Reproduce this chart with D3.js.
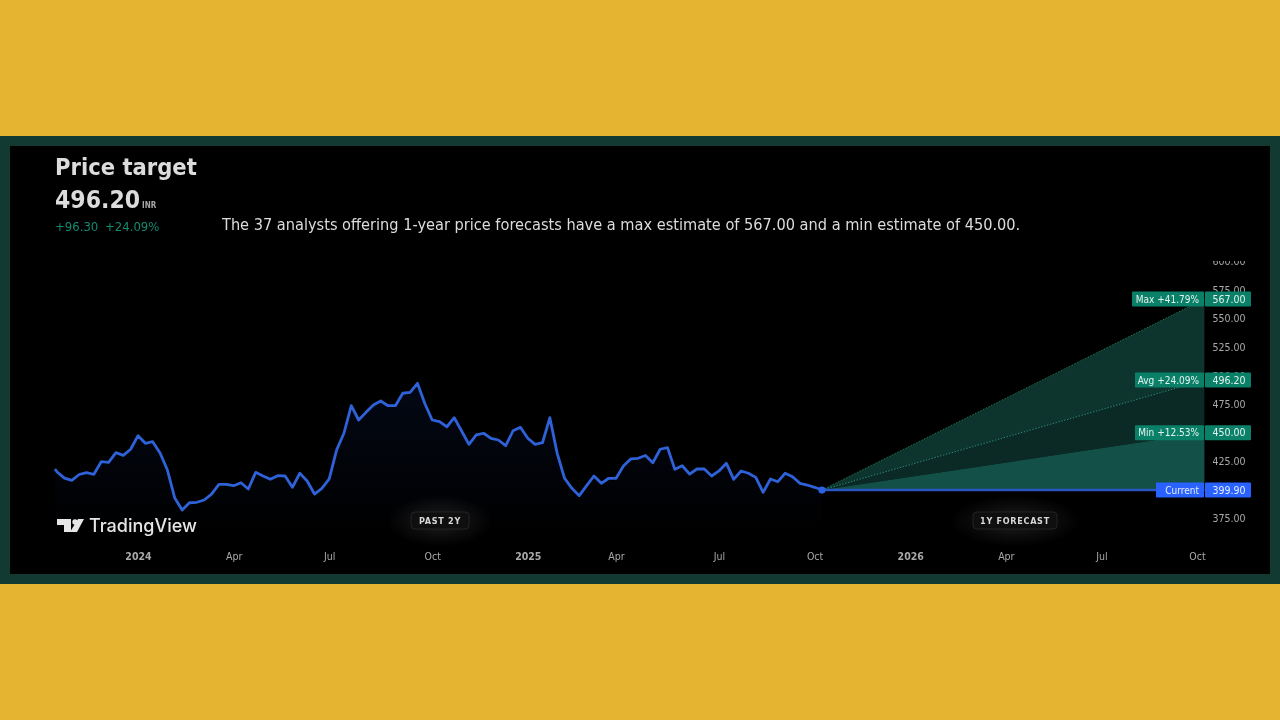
<!DOCTYPE html>
<html>
<head>
<meta charset="utf-8">
<script src="https://cdn.jsdelivr.net/npm/d3@7"></script>
<style>
html,body{margin:0;padding:0;background:#e5b532;overflow:hidden}
svg{display:block;filter:blur(0.35px)}
text{font-family:"DejaVu Sans",sans-serif;font-stretch:condensed}
</style>
</head>
<body>
<svg id="c" width="1280" height="720"></svg>
<script>
const weekIndex = [-0.3].concat(d3.range(0, 105));
const prices = [418.3,415.7,410.4,408.4,413.5,415.1,413.7,424.7,424.2,432.6,430.3,435.6,447.5,440.8,442.2,432.3,417.4,392.9,382.4,388.8,389.2,391.2,396.4,404.9,404.9,403.7,406.3,400.8,415.4,412.2,409.3,412.5,412.2,402.3,414.6,407.8,396.4,401.4,409.6,434.9,449.6,473.7,461.2,467.9,474.3,477.8,473.7,473.7,484.6,485.4,493.3,475.6,461.2,459.7,455.3,463.2,451.6,439.9,448.1,449.6,445.2,443.7,438.7,451.8,454.8,445.2,439.9,441.3,463.2,432,410.2,401.4,395,403.7,412.2,405.8,410.2,410.2,420.9,427.1,427.7,430.1,423.8,435.6,437,418,421.2,413.9,418.3,418.3,412.2,416.6,423.3,409.3,416.6,414.6,411,397.9,409.6,407.2,414.6,411.6,405.8,404.3,402.3,399.9];
const tickWeeks = [11,24,37,51,64,76,90,103,116,129,142,155];
const tickLabels = ["2024","Apr","Jul","Oct","2025","Apr","Jul","Oct","2026","Apr","Jul","Oct"];
const priceTicks = [375,400,425,450,475,500,525,550,575,600];
const forecastWeeks = [104,156];
const current = 399.9;
const targetMax = 567, targetAvg = 496.2, targetMin = 450;
const targetLabels = ["Max +41.79%","Avg +24.09%","Min +12.53%"];
const targetValues = [targetMax,targetAvg,targetMin];
const targetPrices = ["567.00","496.20","450.00"];

const svg = d3.select("#c");
const defs = svg.append("defs");
const x = d3.scaleLinear().domain([0,156]).range([57.1,1204.4]);
const y = d3.scaleLinear().domain([375,600]).range([518.5,261.4]);

// page frame
svg.append("rect").attr("width",1280).attr("height",720).attr("fill","#e5b532");
svg.append("rect").attr("y",136).attr("width",1280).attr("height",448).attr("fill","#123a33");
svg.append("rect").attr("x",10).attr("y",146).attr("width",1260).attr("height",428).attr("fill","#000");

// gradients
const ag = defs.append("linearGradient").attr("id","ag").attr("x1",0).attr("x2",0).attr("y1",0).attr("y2",1);
ag.append("stop").attr("offset",0).attr("stop-color","#2962ff").attr("stop-opacity",0.08);
ag.append("stop").attr("offset",1).attr("stop-color","#2962ff").attr("stop-opacity",0);
const gl = defs.append("radialGradient").attr("id","glow");
gl.append("stop").attr("offset",0).attr("stop-color","#fff").attr("stop-opacity",0.13);
gl.append("stop").attr("offset",0.55).attr("stop-color","#fff").attr("stop-opacity",0.05);
gl.append("stop").attr("offset",1).attr("stop-color","#fff").attr("stop-opacity",0);
defs.append("clipPath").attr("id","axclip").append("rect").attr("x",1205).attr("y",261).attr("width",60).attr("height",290);

// header
const fg = "#dcdcdc";
const hdr = svg.append("g");
hdr.append("text").attr("x",55).attr("y",175).attr("font-size",23.5).attr("font-weight",700).attr("fill",fg).text("Price target");
hdr.append("text").attr("x",55).attr("y",208).attr("font-size",24.5).attr("font-weight",700).attr("fill",fg).text("496.20");
hdr.append("text").attr("x",142).attr("y",208).attr("font-size",8).attr("font-weight",700).attr("fill","#a8a8a8").text("INR");
hdr.append("text").attr("x",55).attr("y",231).attr("font-size",13).attr("fill","#128a6f").text("+96.30");
hdr.append("text").attr("x",105).attr("y",231).attr("font-size",13).attr("fill","#128a6f").text("+24.09%");
hdr.append("text").attr("x",222).attr("y",230).attr("font-size",16.2).attr("fill",fg)
  .text("The 37 analysts offering 1-year price forecasts have a max estimate of 567.00 and a min estimate of 450.00.");

// price axis
const yAxis = d3.axisRight(y).tickValues(priceTicks).tickSize(0).tickPadding(0).tickFormat(d3.format(".2f"));
const clipWrap = svg.append("g").attr("clip-path","url(#axclip)");
const yg = clipWrap.append("g").attr("transform","translate(1229,0)").call(yAxis);
yg.select(".domain").remove();
yg.selectAll("text").attr("font-size",10.5).attr("fill","#a9a9a9").attr("text-anchor","middle").attr("x",0);

// time axis
const xAxis = d3.axisBottom(x).tickValues(tickWeeks).tickSize(0).tickPadding(0).tickFormat((d,i)=>tickLabels[i]);
const xg = svg.append("g").attr("transform","translate(0,553)").call(xAxis);
xg.select(".domain").remove();
xg.selectAll("text").attr("font-size",10.5).attr("fill","#a9a9a9")
  .attr("font-weight",(d,i)=>/^20/.test(tickLabels[i])?700:400);

// forecast fan
const fanRows = forecastWeeks.map((w,i)=>({w,
  cur:current,
  max:i?targetMax:current, avg:i?targetAvg:current, min:i?targetMin:current}));
const band = (a,b)=>d3.area().x(d=>x(d.w)).y0(d=>y(d[a])).y1(d=>y(d[b]))(fanRows);
const ln = k=>d3.line().x(d=>x(d.w)).y(d=>y(d[k]))(fanRows);
svg.append("path").attr("d",band("avg","max")).attr("fill","#0d352e");
svg.append("path").attr("d",band("min","avg")).attr("fill","#0b2a26");
svg.append("path").attr("d",band("cur","min")).attr("fill","#135047");
svg.append("path").attr("d",ln("max")).attr("fill","none").attr("stroke","#1d6e5c").attr("stroke-width",1).attr("stroke-dasharray","1.5 1.5");
svg.append("path").attr("d",ln("avg")).attr("fill","none").attr("stroke","#2a8a74").attr("stroke-width",1).attr("stroke-dasharray","1.5 1.5");

// past price
const pts = weekIndex.map((w,i)=>({w,p:prices[i]}));
svg.append("path").datum(pts).attr("fill","url(#ag)")
  .attr("d",d3.area().x(d=>x(d.w)).y0(537).y1(d=>y(d.p)));
svg.append("path").datum(pts).attr("fill","none").attr("stroke","#2f62d8").attr("stroke-width",2.8).attr("stroke-linejoin","round")
  .attr("d",d3.line().x(d=>x(d.w)).y(d=>y(d.p)));
svg.append("path").attr("d",ln("cur")).attr("fill","none").attr("stroke","#2a55c4").attr("stroke-width",2.6);
svg.append("circle").attr("cx",x(104)).attr("cy",y(current)).attr("r",3.6).attr("fill","#2f62e0");

// target labels
const tagGreen = "#0b8069";
targetValues.forEach((v,i)=>{
  const w = i===0?72:69;
  svg.append("rect").attr("x",1204-w).attr("y",y(v)-7.5).attr("width",w).attr("height",15).attr("rx",1).attr("fill",tagGreen);
  svg.append("rect").attr("x",1205).attr("y",y(v)-7.5).attr("width",46).attr("height",15).attr("rx",1).attr("fill",tagGreen);
  svg.append("text").attr("x",1199).attr("y",y(v)+3.5).attr("text-anchor","end").attr("font-size",10).attr("fill","#e4f2ee").text(targetLabels[i]);
  svg.append("text").attr("x",1229).attr("y",y(v)+3.5).attr("text-anchor","middle").attr("font-size",10.5).attr("fill","#e4f2ee").text(targetPrices[i]);
});
svg.append("rect").attr("x",1156).attr("y",y(current)-7.5).attr("width",48).attr("height",15).attr("rx",1).attr("fill","#2962ff");
svg.append("rect").attr("x",1205).attr("y",y(current)-7.5).attr("width",46).attr("height",15).attr("rx",1).attr("fill","#2962ff");
svg.append("text").attr("x",1199).attr("y",y(current)+3.5).attr("text-anchor","end").attr("font-size",10).attr("fill","#e8eeff").text("Current");
svg.append("text").attr("x",1229).attr("y",y(current)+3.5).attr("text-anchor","middle").attr("font-size",10.5).attr("fill","#e8eeff").text(d3.format(".2f")(current));

// range pills
[["PAST 2Y",440,58],["1Y FORECAST",1015,84]].forEach(([t,cx,w])=>{
  svg.append("ellipse").attr("cx",cx).attr("cy",521).attr("rx",w/2+24).attr("ry",26).attr("fill","url(#glow)");
  svg.append("rect").attr("x",cx-w/2).attr("y",512).attr("width",w).attr("height",17).attr("rx",4).attr("fill","#0f0f0f").attr("stroke","#222").attr("stroke-width",1);
  svg.append("text").attr("x",cx).attr("y",523.5).attr("text-anchor","middle").attr("font-size",9).attr("font-weight",700).attr("letter-spacing",0.7).attr("fill","#d8d8d8").text(t);
});

// TradingView mark
const logo = svg.append("g").attr("fill","#e6e6e6");
logo.append("path").attr("d","M57 519H71V532H64V525H57Z");
logo.append("circle").attr("cx",75).attr("cy",522).attr("r",2.7);
logo.append("path").attr("d","M78 519H84L77 532H70Z");
logo.append("text").attr("x",89).attr("y",532).attr("font-size",18).attr("font-family","Inter, sans-serif").attr("font-weight",500).attr("style","font-family:Inter,sans-serif;font-stretch:normal").attr("fill","#e6e6e6").text("TradingView");
</script>
</body>
</html>
